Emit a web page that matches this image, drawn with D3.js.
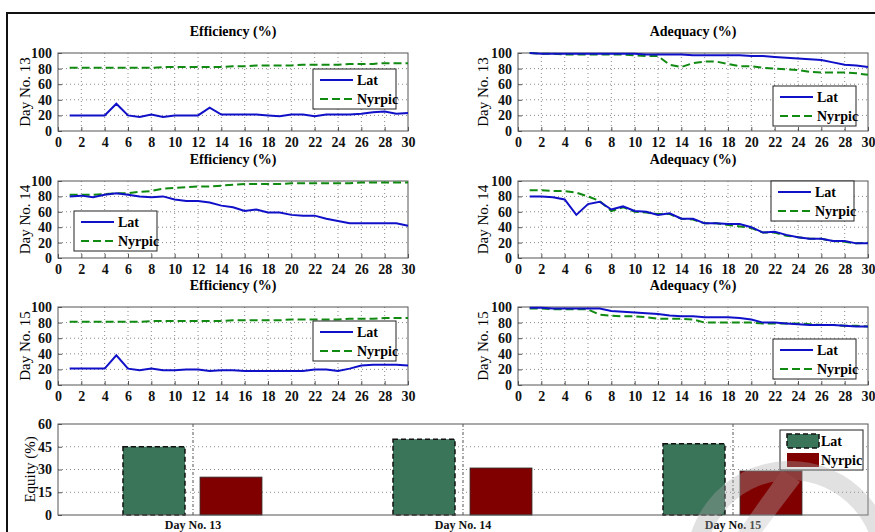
<!DOCTYPE html>
<html>
<head>
<meta charset="utf-8">
<script src="https://cdn.jsdelivr.net/npm/d3@7"></script>
<style>
  body { margin: 0; background: #fff; }
</style>
</head>
<body>
<script>
const W = 875, H = 532;
const FONT = "'Liberation Serif', 'Times New Roman', 'DejaVu Serif', serif";

// days on the x axis
const days = d3.range(1, 31);

// efficiency / adequacy series
const effLat13 = [20,20,20,20,35,20,18,21,18,20,20,20,30,21,21,21,21,20,19,21,21,19,21,21,21,22,24,25,22,23];
const effNyr13 = [81,81,81,81,81,81,81,81,82,82,82,82,82,82,83,83,84,84,84,84,85,85,85,85,86,86,86,87,87,87];
const adqLat13 = [100,99,99,99,99,99,99,99,99,99,98,98,98,98,97,97,97,97,97,96,96,95,94,93,92,91,88,85,84,82];
const adqNyr13 = [100,99,99,98,98,98,98,98,98,97,96,96,85,82,87,89,89,86,83,83,81,80,79,78,76,75,75,75,74,72];
const effLat14 = [80,81,79,82,84,82,80,79,80,76,74,74,72,68,66,61,63,59,59,56,55,55,51,48,45,45,45,45,45,42];
const effNyr14 = [82,82,82,83,84,84,86,87,90,91,92,93,93,94,95,96,96,96,96,97,97,97,97,97,97,98,98,98,98,98];
const adqLat14 = [80,80,79,76,56,70,73,63,67,61,60,56,58,51,51,45,45,44,44,40,33,34,30,27,25,25,22,22,19,19];
const adqNyr14 = [88,88,87,87,85,80,74,61,66,60,59,57,57,51,50,45,45,43,41,39,33,33,29,27,25,25,22,21,19,20];
const effLat15 = [21,21,21,21,38,21,19,21,19,19,20,20,18,19,19,18,18,18,18,18,18,20,20,18,21,25,26,26,26,25];
const effNyr15 = [81,81,81,81,81,81,81,82,82,82,82,82,82,82,83,83,83,83,83,84,84,84,84,84,85,85,85,86,86,86];
const adqLat15 = [99,99,98,98,98,98,98,95,94,93,92,91,89,88,88,87,87,87,86,84,80,80,79,78,77,77,77,76,75,75];
const adqNyr15 = [98,98,97,97,97,97,90,89,88,88,87,85,85,85,84,80,80,80,80,80,79,79,79,79,78,77,77,76,76,75];

// bar chart
const equityDays = ["Day No. 13", "Day No. 14", "Day No. 15"];
const equityLat = [45, 50, 47];
const equityNyr = [25, 31, 29];

const seriesNames = ["Lat", "Nyrpic"];
const xTicks = d3.range(0, 31, 2);
const yTicks = d3.range(0, 101, 20);

const svg = d3.select("body").append("svg")
  .attr("width", W).attr("height", H)
  .attr("font-family", FONT);

svg.append("rect").attr("width", W).attr("height", H).attr("fill", "#fff");

// faint watermark in the corner (drawn under the figure)
const wm = svg.append("g").attr("pointer-events", "none");

// outer figure frame
svg.append("path")
  .attr("d", `M7,${H} L7,13 L${W},13`)
  .attr("fill", "none").attr("stroke", "#111").attr("stroke-width", 2);

// panel layout
const cols = [[58, 408], [518, 868]];
const rows = [[53, 131], [181, 258], [307, 385]];
const panels = [
  { c: 0, r: 0, title: "Efficiency (%)", ylab: "Day No. 13", lat: effLat13, nyr: effNyr13, leg: [313, 69] },
  { c: 1, r: 0, title: "Adequacy (%)",   ylab: "Day No. 13", lat: adqLat13, nyr: adqNyr13, leg: [773, 86] },
  { c: 0, r: 1, title: "Efficiency (%)", ylab: "Day No. 14", lat: effLat14, nyr: effNyr14, leg: [74, 211] },
  { c: 1, r: 1, title: "Adequacy (%)",   ylab: "Day No. 14", lat: adqLat14, nyr: adqNyr14, leg: [771, 181] },
  { c: 0, r: 2, title: "Efficiency (%)", ylab: "Day No. 15", lat: effLat15, nyr: effNyr15, leg: [313, 321] },
  { c: 1, r: 2, title: "Adequacy (%)",   ylab: "Day No. 15", lat: adqLat15, nyr: adqNyr15, leg: [773, 339] }
];

const blue = "#1010c8", green = "#108a10";

function styleAxis(a, size) {
  a.attr("font-family", FONT);
  a.select(".domain").remove();
  a.selectAll("line").attr("stroke", "#555");
  a.selectAll("text").attr("font-size", size).attr("font-weight", "bold").attr("fill", "#111");
}

panels.forEach(p => {
  const [x0, x1] = cols[p.c];
  const [y0, y1] = rows[p.r];
  const x = d3.scaleLinear().domain([0, 30]).range([x0, x1]);
  const y = d3.scaleLinear().domain([0, 100]).range([y1, y0]);
  const g = svg.append("g");

  // grid
  g.selectAll(".gx").data(xTicks.slice(1, -1)).enter().append("line")
    .attr("x1", d => x(d)).attr("x2", d => x(d)).attr("y1", y0).attr("y2", y1)
    .attr("stroke", "#888").attr("stroke-dasharray", "1,3");
  g.selectAll(".gy").data(yTicks.slice(1, -1)).enter().append("line")
    .attr("y1", d => y(d)).attr("y2", d => y(d)).attr("x1", x0).attr("x2", x1)
    .attr("stroke", "#888").attr("stroke-dasharray", "1,3");

  // axes
  const ax = g.append("g").attr("transform", `translate(0,${y1})`)
    .call(d3.axisBottom(x).tickValues(xTicks).tickSizeInner(-4).tickSizeOuter(0).tickPadding(6));
  const ay = g.append("g").attr("transform", `translate(${x0},0)`)
    .call(d3.axisLeft(y).tickValues(yTicks).tickSizeInner(-4).tickSizeOuter(0).tickPadding(6));
  styleAxis(ax, 14);
  styleAxis(ay, 14);
  g.append("rect").attr("x", x0).attr("y", y0).attr("width", x1 - x0).attr("height", y1 - y0)
    .attr("fill", "none").attr("stroke", "#555").attr("stroke-width", 1);

  // lines
  const line = d3.line().x((d, i) => x(days[i])).y(d => y(d));
  g.append("path").datum(p.nyr).attr("d", line)
    .attr("fill", "none").attr("stroke", green).attr("stroke-width", 2)
    .attr("stroke-dasharray", "8,4");
  g.append("path").datum(p.lat).attr("d", line)
    .attr("fill", "none").attr("stroke", blue).attr("stroke-width", 2);

  // title and y label
  g.append("text").attr("x", (x0 + x1) / 2).attr("y", y0 - 17)
    .attr("text-anchor", "middle").attr("font-size", 14).attr("font-weight", "bold")
    .text(p.title);
  const lx = p.c === 0 ? 25 : 483;
  g.append("text")
    .attr("transform", `translate(${lx + 5},${(y0 + y1) / 2}) rotate(-90)`)
    .attr("text-anchor", "middle").attr("font-size", 15)
    .text(p.ylab);

  // legend
  const [lgx, lgy] = p.leg;
  const lg = g.append("g").attr("transform", `translate(${lgx},${lgy})`);
  lg.append("rect").attr("width", 83).attr("height", 40)
    .attr("fill", "#fff").attr("stroke", "#222");
  seriesNames.forEach((s, i) => {
    const yy = 11 + i * 19;
    lg.append("line").attr("x1", 7).attr("x2", 40).attr("y1", yy).attr("y2", yy)
      .attr("stroke", i === 0 ? blue : green).attr("stroke-width", 2)
      .attr("stroke-dasharray", i === 0 ? null : "8,4");
    lg.append("text").attr("x", 44).attr("y", yy + 5)
      .attr("font-size", 14).attr("font-weight", "bold").text(s);
  });
});

// ---- equity bar chart ----
const bx0 = 58, bx1 = 868, by0 = 424, by1 = 515;
const xb = d3.scaleBand().domain(equityDays).range([bx0, bx1]);
const xs = d3.scaleBand().domain(seriesNames).range([65, 204]).paddingInner(0.195);
const yb = d3.scaleLinear().domain([0, 60]).range([by1, by0]);
const eqTicks = [0, 15, 30, 45, 60];
const bg = svg.append("g");

bg.selectAll(".gy").data([15, 30, 45]).enter().append("line")
  .attr("x1", bx0).attr("x2", bx1).attr("y1", d => yb(d)).attr("y2", d => yb(d))
  .attr("stroke", "#888").attr("stroke-dasharray", "1,3");
bg.selectAll(".gx").data(equityDays).enter().append("line")
  .attr("x1", d => xb(d) + xb.bandwidth() / 2).attr("x2", d => xb(d) + xb.bandwidth() / 2)
  .attr("y1", by0).attr("y2", by1)
  .attr("stroke", "#555").attr("stroke-dasharray", "3,2,1,2");

const barColors = { Lat: "#3a7459", Nyrpic: "#800000" };
const barData = [];
equityDays.forEach((d, i) => {
  barData.push({ day: d, s: "Lat", v: equityLat[i] });
  barData.push({ day: d, s: "Nyrpic", v: equityNyr[i] });
});
bg.selectAll(".bar").data(barData).enter().append("rect")
  .attr("x", d => xb(d.day) + xs(d.s))
  .attr("width", xs.bandwidth())
  .attr("y", d => yb(d.v))
  .attr("height", d => yb(0) - yb(d.v))
  .attr("fill", d => barColors[d.s])
  .attr("stroke", d => d.s === "Lat" ? "#111" : "#333")
  .attr("stroke-width", d => d.s === "Lat" ? 1.5 : 0.8)
  .attr("stroke-dasharray", d => d.s === "Lat" ? "5,3" : null);

const bay = bg.append("g").attr("transform", `translate(${bx0},0)`)
  .call(d3.axisLeft(yb).tickValues(eqTicks).tickSizeInner(-4).tickSizeOuter(0).tickPadding(6));
const bax = bg.append("g").attr("transform", `translate(0,${by1})`)
  .call(d3.axisBottom(xb).tickSize(0).tickPadding(5));
styleAxis(bay, 14);
styleAxis(bax, 12);
bg.append("rect").attr("x", bx0).attr("y", by0).attr("width", bx1 - bx0).attr("height", by1 - by0)
  .attr("fill", "none").attr("stroke", "#555");
bg.append("text")
  .attr("transform", `translate(35,${(by0 + by1) / 2}) rotate(-90)`)
  .attr("text-anchor", "middle").attr("font-size", 15)
  .text("Equity (%)");

// bar legend
const blg = bg.append("g").attr("transform", "translate(780,430)");
blg.append("rect").attr("width", 83).attr("height", 40).attr("fill", "#fff").attr("stroke", "#222");
seriesNames.forEach((s, i) => {
  blg.append("rect").attr("x", 7).attr("y", 4 + i * 19).attr("width", 32).attr("height", 14)
    .attr("fill", barColors[s])
    .attr("stroke", s === "Lat" ? "#111" : "none").attr("stroke-width", 1.5)
    .attr("stroke-dasharray", s === "Lat" ? "5,3" : null);
  blg.append("text").attr("x", 41).attr("y", 16 + i * 19)
    .attr("font-size", 14).attr("font-weight", "bold").text(s);
});

// watermark overlay: light translucent ring and diagonal band
const wm2 = svg.append("g").attr("opacity", 0.35).attr("pointer-events", "none");
wm2.append("path")
  .attr("d", d3.arc().innerRadius(85).outerRadius(104).startAngle(-Math.PI * 0.5).endAngle(Math.PI * 0.62)())
  .attr("transform", "translate(790,565)").attr("fill", "#aaa");
wm2.append("path").attr("d", "M738,532 L782,470 L800,482 L762,532 Z").attr("fill", "#bbb");
</script>
</body>
</html>
